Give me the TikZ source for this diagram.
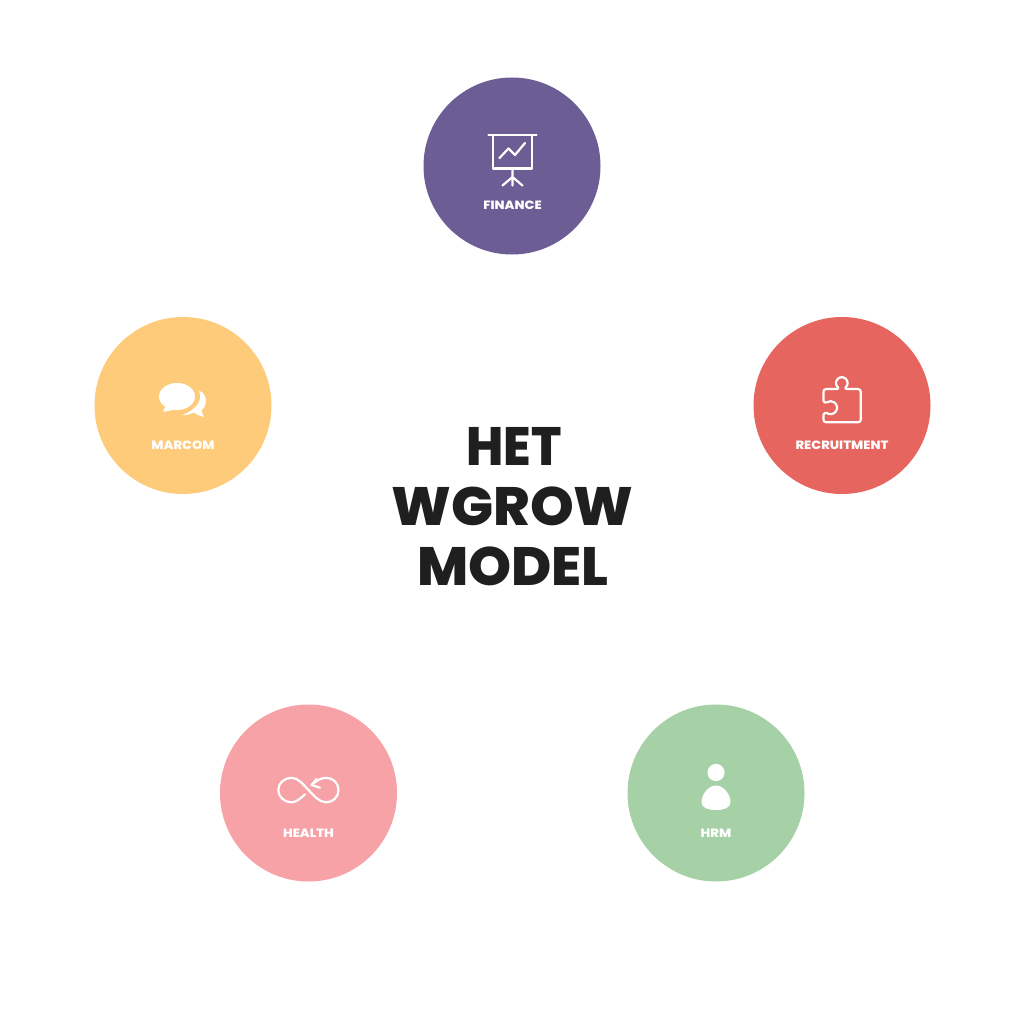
\documentclass[tikz,border=0pt]{standalone}
\usepackage{fontspec}
\usepackage{graphicx}
\setmainfont{Poppins}[BoldFont={Poppins ExtraBold}]
\newcommand{\labtext}[1]{\scalebox{1.09}[1]{#1}}
\begin{document}
\begin{tikzpicture}[x=1pt,y=-1pt,
  disc/.style={circle,minimum size=177pt,inner sep=0pt,fill=#1},
  lab/.style={text=white,font=\fontsize{12}{12}\selectfont\bfseries,inner sep=0pt,anchor=base},
  icon/.style={draw=white,line width=2.2pt,line cap=round,line join=round},
  head/.style={text=black!88,font=\fontsize{54}{54}\selectfont\bfseries,inner sep=0pt,anchor=base}]
\useasboundingbox (0,0) rectangle (1024,1024);
\definecolor{cfin}{HTML}{6C5D95}
\definecolor{crec}{HTML}{E6655E}
\definecolor{cmar}{HTML}{FDCB7A}
\definecolor{chea}{HTML}{F6A2A6}
\definecolor{chrm}{HTML}{A6D1A6}
\node[disc=cfin] (finance) at (512,166) {};
\node[disc=crec] (recruit) at (842,405.5) {};
\node[disc=cmar] (marcom) at (183,405.5) {};
\node[disc=chea] (health) at (308.5,793) {};
\node[disc=chrm] (hrm) at (716,793) {};
\node[lab] (lf) at (512.5,209.5) {\labtext{FINANCE}};
\node[lab] (lr) at (842,449) {\labtext{RECRUITMENT}};
\node[lab] (lm) at (183,449) {\labtext{MARCOM}};
\node[lab] (lh) at (308.5,837) {\labtext{HEALTH}};
\node[lab] (lg) at (716,837) {\labtext{HRM}};
\node[head] (t1) at (514,465) {\scalebox{.93}[1]{HET}};
\node[head] (t2) at (512.5,525.5) {\scalebox{1.03}[1]{WGROW}};
\node[head] (t3) at (513,585.5) {\scalebox{1.015}[1]{MODEL}};
% finance
\draw[icon] (488.5,135) -- (536.5,135) (492.7,135) -- (492.7,168.5) -- (532.3,168.5) -- (532.3,135);
\draw[icon] (499.5,158) -- (508.5,148.5) -- (515,155) -- (525,143);
\draw[icon] (512.5,168.5) -- (512.5,185.5) (512.5,177) -- (502.5,185.5) (512.5,177) -- (522.5,185.5);
% recruitment
\draw[icon] (826.2,389) -- (837,389) .. controls (838.5,389) and (838.5,388) .. (837.7,387.1)
  arc[start angle=135,end angle=405,radius=5.8] .. controls (845.1,388) and (845.1,389) .. (846.6,389)
  -- (858,389) arc[start angle=-90,end angle=0,radius=2.8] -- (860.8,419.5)
  arc[start angle=0,end angle=90,radius=2.8] -- (826.2,422.3) arc[start angle=90,end angle=180,radius=2.8]
  -- (823.4,415) .. controls (823.4,413) and (825.5,412.5) .. (826.8,413)
  arc[start angle=125,end angle=-125,radius=6.5] .. controls (825.5,403) and (823.4,402.5) .. (823.4,400.5)
  -- (823.4,391.8) arc[start angle=180,end angle=270,radius=2.8];
% marcom
\fill[white] (177,396.5) circle[x radius=18,y radius=13.5];
\fill[white] (167,404) -- (162.7,411.7) .. controls (167,411.5) and (171,410.5) .. (176,409) -- cycle;
\fill[white] (199,390.5) .. controls (205,393) and (207,399) .. (205.5,404)
  .. controls (205,407) and (203,409) .. (201.5,410.5) .. controls (202,413) and (203,415.5) .. (204,417)
  .. controls (200,416) and (196.5,414.5) .. (193.5,412.5)
  .. controls (190,414.5) and (186,415.5) .. (182.5,415)
  .. controls (193,411) and (204,402) .. (199,390.5) -- cycle;
% health
\draw[icon] (305,794.3) .. controls (300,799) and (296,802.3) .. (291.5,802.3)
  .. controls (284.5,802.3) and (278.3,797) .. (278.3,790)
  .. controls (278.3,783) and (284.5,777.8) .. (291.5,777.8)
  .. controls (298.5,777.8) and (303,784.5) .. (308.5,790)
  .. controls (314,795.5) and (319,802.3) .. (326,802.3)
  .. controls (333,802.3) and (338.5,797) .. (338.5,790)
  .. controls (338.5,783) and (333,777.8) .. (326,777.8)
  .. controls (321,777.8) and (316,781) .. (311.5,785);
\draw[icon] (316.7,779) -- (311.5,785) -- (320,787.7);
% hrm
\fill[white] (716,772.5) circle[radius=8.6];
\fill[white] (716,785.5) .. controls (724,785.5) and (730.5,795) .. (730.5,802)
  .. controls (730.5,808) and (724,810) .. (716,810)
  .. controls (708,810) and (701.5,808) .. (701.5,802)
  .. controls (701.5,795) and (708,785.5) .. (716,785.5) -- cycle;
\end{tikzpicture}
\end{document}
